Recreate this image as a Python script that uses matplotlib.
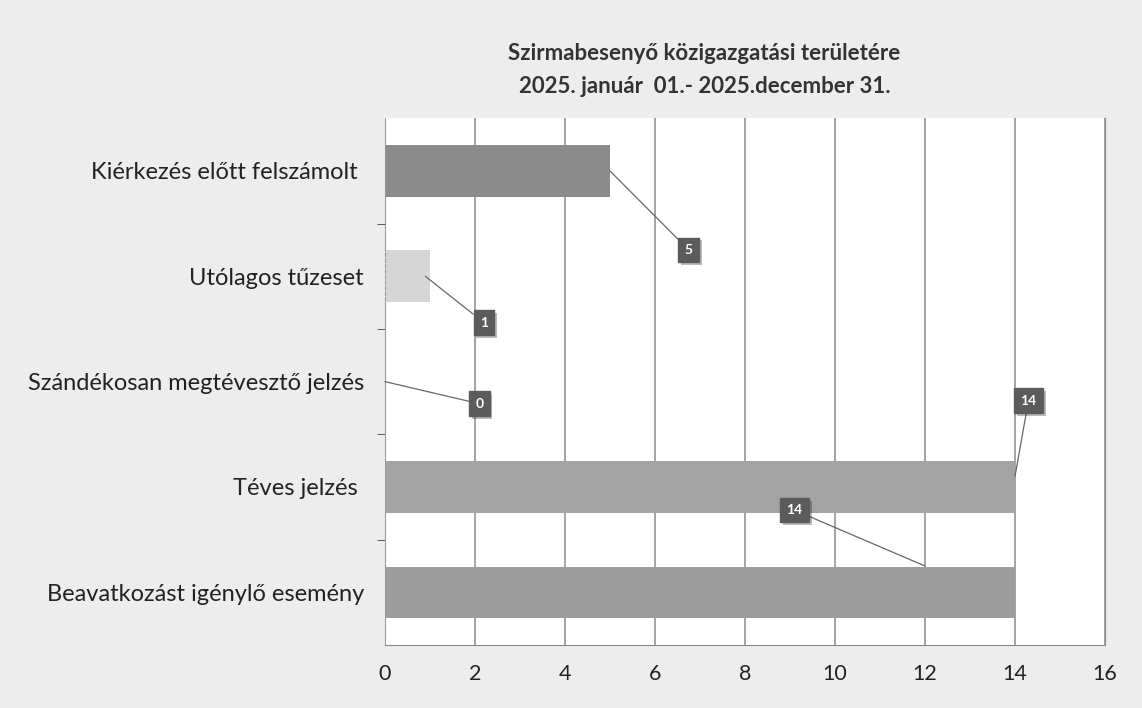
import matplotlib.pyplot as plt
import matplotlib.patheffects as pe

# Categories, bottom to top as drawn
categories = [
    "Beavatkozást igénylő esemény",
    "Téves jelzés ",
    "Szándékosan megtévesztő jelzés",
    "Utólagos tűzeset",
    "Kiérkezés előtt felszámolt ",
]
values = [14, 14, 0, 1, 5]
bar_colors = ["#9d9d9d", "#a3a3a3", "#9d9d9d", "#d6d6d6", "#8b8b8b"]
# where each data label box sits (x, y in data units)
label_pos = [(9.1, 0.78), (14.3, 1.82), (2.1, 1.79), (2.2, 2.56), (6.75, 3.25)]
# point on the bar the leader line goes to
leader_to = [(12.0, 0.25), (14.0, 1.1), (0.0, 2.0), (0.9, 3.0), (5.0, 4.0)]

title = "Szirmabesenyő közigazgatási területére\n2025. január  01.- 2025.december 31."

plt.rcParams['font.family'] = ['Lato', 'DejaVu Sans']

fig = plt.figure(figsize=(11.42, 7.08), dpi=100, facecolor="#ededed")
ax = fig.add_axes([0.337, 0.089, 0.6306, 0.744])
ax.set_facecolor("white")

ypos = range(len(categories))
ax.barh(ypos, values, height=0.49, color=bar_colors, zorder=2)

ax.set_xlim(0, 16)
ax.set_ylim(-0.5, 4.5)
ax.set_xticks(range(0, 17, 2))
ax.set_yticks(list(ypos))
ax.set_yticklabels(categories, fontsize=17, color="#222222")
ax.tick_params(axis="y", length=0, pad=15)
ax.tick_params(axis="x", length=0, labelsize=15.5, colors="#222222", pad=14)
ax.set_yticks([k + 0.5 for k in range(4)], minor=True)
ax.tick_params(axis="y", which="minor", length=6, color="#444444", direction="out")

ax.grid(axis="x", color="#8a8a8a", linewidth=1.1, zorder=1)
ax.spines["top"].set_visible(False)
ax.spines["right"].set_color("#8a8a8a")
ax.spines["left"].set_color("#999999")
ax.spines["left"].set_linestyle((0, (3, 2)))
ax.spines["bottom"].set_color("#8a8a8a")

for v, (lx, ly), (tx, ty) in zip(values, label_pos, leader_to):
    ax.annotate(str(v), xy=(tx, ty), xytext=(lx, ly), textcoords="data",
                ha="center", va="center", fontsize=10, fontweight="bold",
                color="white", zorder=5,
                bbox=dict(boxstyle="square,pad=0.45", facecolor="#5b5b5b",
                          edgecolor="#5b5b5b",
                          path_effects=[pe.SimplePatchShadow(offset=(2, -2), alpha=0.3),
                                        pe.Normal()]),
                arrowprops=dict(arrowstyle="-", color="#666666", linewidth=0.9,
                                shrinkA=0, shrinkB=0))

fig.text(0.617, 0.901, title, ha="center", va="center", fontsize=16,
         fontweight="bold", color="#333333", linespacing=1.75)

fig.savefig("out.png", dpi=100, facecolor=fig.get_facecolor())
